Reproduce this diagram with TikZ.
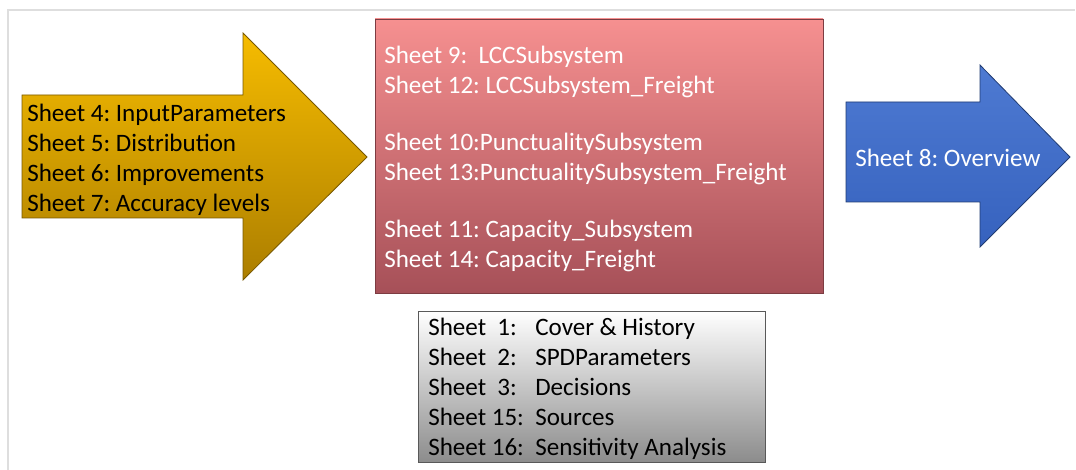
\documentclass[tikz,border=0pt]{standalone}
\usepackage{fontspec}
\setmainfont{Carlito}
\frenchspacing

\definecolor{goldtop}{RGB}{246,188,0}
\definecolor{goldbot}{RGB}{172,126,0}
\definecolor{redtop}{RGB}{246,144,144}
\definecolor{redbot}{RGB}{166,80,88}
\definecolor{bluetop}{RGB}{78,122,210}
\definecolor{bluebot}{RGB}{54,98,190}
\definecolor{greybot}{RGB}{140,140,140}
\definecolor{framegrey}{RGB}{222,222,222}

\begin{document}
\begin{tikzpicture}[x=0.75pt,y=-0.75pt,
  sheettext/.style={anchor=west,align=left,inner sep=0pt,
    font=\fontsize{18.8}{22.5}\selectfont},
  goldarrow/.style={draw=goldbot!70!black,line width=0.6pt,top color=goldtop,bottom color=goldbot},
  redbox/.style={draw=redbot!75!black,line width=0.6pt,top color=redtop,bottom color=redbot},
  bluearrow/.style={draw=bluebot!60!black,line width=0.6pt,top color=bluetop,bottom color=bluebot},
  greybox/.style={draw=black!65,line width=0.6pt,top color=white,bottom color=greybot}]
\useasboundingbox (0,0) rectangle (1076,470);

% frame
\draw[framegrey,line width=1pt] (8,470)--(8,10)--(1075,10);

% input sheets
\draw[goldarrow] (22,95)--(243,95)--(243,33)--(367,157)--(243,280)--(243,218)--(22,218)--cycle;
\node[sheettext] (input) at (27,160) {Sheet 4: InputParameters\\
Sheet 5: Distribution\\
Sheet 6: Improvements\\
Sheet 7: Accuracy levels};

% subsystem sheets
\draw[redbox] (375,19) rectangle (823,293);
\node[sheettext,white] (subsys) at (384,159) {Sheet 9:\ \ LCCSubsystem\\
Sheet 12: LCCSubsystem\_Freight\\[20pt]
Sheet 10:PunctualitySubsystem\\
Sheet 13:PunctualitySubsystem\_Freight\\[20pt]
Sheet 11: Capacity\_Subsystem\\
Sheet 14: Capacity\_Freight};

% overview
\draw[bluearrow] (846,102)--(980,102)--(980,65)--(1070,157)--(980,247)--(980,202)--(846,202)--cycle;
\node[sheettext,white] (overview) at (855,158) {Sheet 8: Overview};

% general sheets
\draw[greybox] (418,311) rectangle (765,462);
\node[sheettext] (general) at (428,389.5) {%
\begin{tabular}{@{}l@{\ \ }l@{}}
Sheet\ \ 1: & Cover \& History\\
Sheet\ \ 2: & SPDParameters\\
Sheet\ \ 3: & Decisions\\
Sheet 15: & Sources\\
Sheet 16: & Sensitivity Analysis
\end{tabular}};
\end{tikzpicture}
\end{document}
